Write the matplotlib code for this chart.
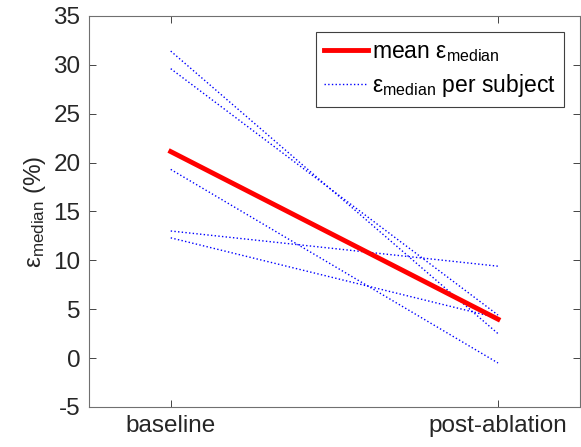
import matplotlib.pyplot as plt

plt.rcParams['font.family'] = ['Liberation Sans', 'DejaVu Sans']
plt.rcParams['mathtext.fontset'] = 'custom'
plt.rcParams['mathtext.rm'] = 'Liberation Sans'
plt.rcParams['axes.unicode_minus'] = False

conditions = ['baseline', 'post-ablation']
x_pos = [1, 2]

# per-subject epsilon_median (%) at baseline and post-ablation
subjects = [
    [31.4, 2.5],
    [29.6, 4.4],
    [19.3, -0.5],
    [13.0, 9.4],
    [12.3, 4.1],
]
mean_vals = [sum(s[i] for s in subjects) / len(subjects) for i in range(2)]

fig = plt.figure(figsize=(5.81, 4.47), dpi=100)
ax = fig.add_axes([0.153, 0.0895, 0.845, 0.875])

ax.plot(x_pos, mean_vals, color='red', lw=3.5, label=r'mean $\mathregular{ε_{median}}$', zorder=3)
for i, s in enumerate(subjects):
    ax.plot(x_pos, s, color='blue', lw=1, ls=':',
            label=r'$\mathregular{ε_{median}}$ per subject' if i == 0 else None)

ax.set_xlim(0.75, 2.25)
ax.set_ylim(-5, 35)
ax.set_yticks(range(-5, 36, 5))
ax.set_xticks(x_pos)
ax.set_xticklabels(conditions)
ax.set_ylabel(r'$\mathregular{ε_{median}}$ (%)', fontsize=17.5, color='#262626', labelpad=4)

ax.tick_params(direction='in', top=True, right=True, labelsize=17.5,
               colors='#262626', length=5, width=0.6, pad=6)
for sp in ax.spines.values():
    sp.set_color('#707070')
    sp.set_linewidth(0.8)

leg = ax.legend(loc='upper right', fontsize=16.5, handlelength=1.9,
                fancybox=False, framealpha=1, borderaxespad=0.7,
                handletextpad=0.2, labelspacing=0.35, borderpad=0.35)
leg.get_frame().set_edgecolor('#404040')
leg.get_frame().set_linewidth(0.8)

fig.savefig('out.png', dpi=100)
